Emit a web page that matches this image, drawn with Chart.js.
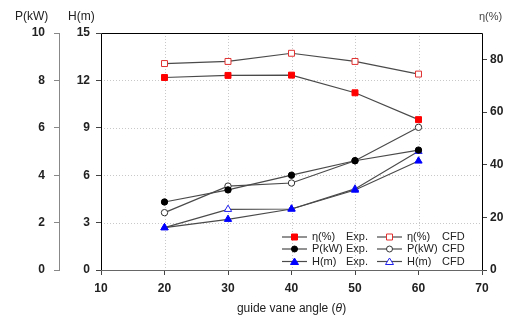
<!DOCTYPE html>
<html>
<head>
<meta charset="utf-8">
<script src="https://cdn.jsdelivr.net/npm/chart.js@4"></script>
<style>
  html, body { margin: 0; background: #fff; }
  #wrap { width: 516px; height: 322px; }
</style>
</head>
<body>
<div id="wrap"><canvas id="chart"></canvas></div>
<script>
/* ── Data ─────────────────────────────────────────────────────────────── */
const angles   = [20, 30, 40, 50, 60];
const etaExp   = [73.1, 73.9, 74.0, 67.3, 57.1];
const etaCfd   = [78.4, 79.2, 82.3, 79.2, 74.4];
const powerExp = [2.87, 3.38, 4.00, 4.61, 5.06];
const powerCfd = [2.42, 3.54, 3.67, 4.61, 6.02];
const headExp  = [2.68, 3.21, 3.86, 5.06, 6.90];
const headCfd  = [2.68, 3.84, 3.86, 5.13, 7.51];

const xTicks   = [10, 20, 30, 40, 50, 60, 70];
const pTicks   = [0, 2, 4, 6, 8, 10];
const hTicks   = [0, 3, 6, 9, 12, 15];
const etaTicks = [0, 20, 40, 60, 80];

const FONT = '"Liberation Sans", Arial, sans-serif';
const LINE = '#4a4a4a';

const pts = ys => angles.map((x, i) => ({ x, y: ys[i] }));

function series(label, kind, ys, axis, shape, color, filled) {
  return {
    label, kind,
    data: pts(ys),
    yAxisID: axis,
    borderColor: LINE,
    borderWidth: 1.2,
    pointStyle: shape,
    pointRadius: shape === 'circle' ? 3.2 : 4.2,
    pointBorderWidth: 1,
    pointBorderColor: color,
    pointBackgroundColor: filled ? color : '#fff',
    tension: 0,
  };
}

const datasets = [
  series('η(%)',  'Exp.', etaExp,   'eta', 'rect',     '#ff0000', true),
  series('P(kW)', 'Exp.', powerExp, 'p',   'circle',   '#000',    true),
  series('H(m)',  'Exp.', headExp,  'h',   'triangle', '#0000ff', true),
  series('η(%)',  'CFD',  etaCfd,   'eta', 'rect',     '#e03030', false),
  series('P(kW)', 'CFD',  powerCfd, 'p',   'circle',   '#333',    false),
  series('H(m)',  'CFD',  headCfd,  'h',   'triangle', '#2020ee', false),
];

/* ── Helpers ──────────────────────────────────────────────────────────── */
const fixTicks = list => scale => { scale.ticks = list.map(v => ({ value: v })); };
const fixWidth = w => scale => { scale.width = w; };

function marker(ctx, shape, x, y, color, filled) {
  ctx.save();
  ctx.fillStyle = filled ? color : '#fff';
  ctx.strokeStyle = color;
  ctx.lineWidth = 1;
  ctx.beginPath();
  if (shape === 'rect') ctx.rect(x - 3, y - 3, 6, 6);
  else if (shape === 'circle') ctx.arc(x, y, 3, 0, Math.PI * 2);
  else { ctx.moveTo(x, y - 3.5); ctx.lineTo(x + 4, y + 3); ctx.lineTo(x - 4, y + 3); ctx.closePath(); }
  ctx.fill();
  ctx.stroke();
  ctx.restore();
}

/* ── Plugins: grid, frame, titles, legend ─────────────────────────────── */
const decor = {
  id: 'decor',
  beforeDatasetsDraw(chart) {
    const { ctx, chartArea: a, scales } = chart;
    ctx.save();
    ctx.strokeStyle = '#c8c8c8';
    ctx.lineWidth = 1;
    ctx.setLineDash([1, 2]);
    hTicks.slice(1, -1).forEach(v => {
      const y = Math.round(scales.h.getPixelForValue(v)) + 0.5;
      ctx.beginPath(); ctx.moveTo(a.left, y); ctx.lineTo(a.right, y); ctx.stroke();
    });
    xTicks.slice(1, -1).forEach(v => {
      const x = Math.round(scales.x.getPixelForValue(v)) + 0.5;
      ctx.beginPath(); ctx.moveTo(x, a.top); ctx.lineTo(x, a.bottom); ctx.stroke();
    });
    ctx.restore();
  },
  afterDraw(chart) {
    const { ctx, chartArea: a } = chart;
    ctx.save();
    // frame
    ctx.strokeStyle = '#000';
    ctx.lineWidth = 1;
    ctx.beginPath();
    ctx.moveTo(Math.round(a.left) + 0.5, Math.round(a.bottom));
    ctx.lineTo(Math.round(a.left) + 0.5, Math.round(a.top) + 0.5);
    ctx.lineTo(Math.round(a.right) + 0.5, Math.round(a.top) + 0.5);
    ctx.lineTo(Math.round(a.right) + 0.5, Math.round(a.bottom));
    ctx.stroke();
    ctx.strokeStyle = '#666';
    ctx.beginPath();
    ctx.moveTo(a.left, Math.round(a.bottom) + 0.5);
    ctx.lineTo(a.right + 1, Math.round(a.bottom) + 0.5);
    ctx.stroke();

    // axis titles
    ctx.fillStyle = '#222';
    ctx.textBaseline = 'middle';
    ctx.font = '12px ' + FONT;
    ctx.textAlign = 'left';
    ctx.fillText('P(kW)', 15, 17);
    ctx.fillText('H(m)', 68, 17);
    ctx.fillStyle = '#444';
    ctx.font = '11px ' + FONT;
    ctx.fillText('η(%)', 479, 17);

    ctx.fillStyle = '#222';
    ctx.font = '12px ' + FONT;
    const t1 = 'guide vane angle (', t2 = 'θ', t3 = ')';
    const w1 = ctx.measureText(t1).width;
    ctx.font = 'italic 12px ' + FONT;
    const w2 = ctx.measureText(t2).width;
    ctx.font = '12px ' + FONT;
    const w3 = ctx.measureText(t3).width;
    let x = (a.left + a.right) / 2 - (w1 + w2 + w3) / 2;
    const y = 309;
    ctx.fillText(t1, x, y); x += w1;
    ctx.font = 'italic 12px ' + FONT;
    ctx.fillText(t2, x, y); x += w2;
    ctx.font = '12px ' + FONT;
    ctx.fillText(t3, x, y);

    // legend, two columns of three rows
    const cols = [{ x: 282, name: 312, kind: 346 }, { x: 377, name: 407, kind: 442 }];
    const rows = [237, 249, 261.5];
    ctx.font = '11px ' + FONT;
    chart.data.datasets.forEach((ds, i) => {
      const c = cols[Math.floor(i / 3)], yy = rows[i % 3];
      ctx.strokeStyle = LINE;
      ctx.lineWidth = 1.2;
      ctx.beginPath(); ctx.moveTo(c.x, yy); ctx.lineTo(c.x + 25, yy); ctx.stroke();
      marker(ctx, ds.pointStyle, c.x + 12.5, yy, ds.pointBorderColor, ds.pointBackgroundColor !== '#fff');
      ctx.fillStyle = '#222';
      ctx.fillText(ds.label, c.name, yy);
      ctx.fillText(ds.kind, c.kind, yy);
    });
    ctx.restore();
  },
};

/* ── Chart ────────────────────────────────────────────────────────────── */
const tickFont = { family: FONT, size: 12, weight: 'bold' };

new Chart(document.getElementById('chart'), {
  type: 'line',
  data: { datasets },
  plugins: [decor],
  options: {
    responsive: true,
    maintainAspectRatio: false,
    animation: false,
    layout: { padding: { top: 33, left: 0, right: 0, bottom: 0 } },
    plugins: { legend: { display: false }, tooltip: { enabled: false } },
    scales: {
      x: {
        type: 'linear', position: 'bottom', min: 10, max: 70,
        afterBuildTicks: fixTicks(xTicks),
        afterFit: scale => { scale.height = 52; },
        ticks: { font: tickFont, color: '#222', padding: 6, maxRotation: 0 },
        grid: { drawOnChartArea: false, tickLength: 5, color: '#444' },
        border: { display: false },
      },
      h: {
        type: 'linear', position: 'left', min: 0, max: 15, weight: 0,
        afterBuildTicks: fixTicks(hTicks),
        afterFit: fixWidth(42),
        ticks: { font: tickFont, color: '#222', padding: 6 },
        grid: { drawOnChartArea: false, tickLength: 5, color: '#444' },
        border: { display: false },
      },
      p: {
        type: 'linear', position: 'left', min: 0, max: 10, weight: 1,
        afterBuildTicks: fixTicks(pTicks),
        afterFit: fixWidth(59),
        ticks: { font: tickFont, color: '#222', padding: 9 },
        grid: { drawOnChartArea: false, tickLength: 5, color: '#888' },
        border: { display: true, color: '#888', width: 1 },
      },
      eta: {
        type: 'linear', position: 'right', min: 0, max: 90,
        afterBuildTicks: fixTicks(etaTicks),
        afterFit: fixWidth(34),
        ticks: { font: tickFont, color: '#222', padding: 3 },
        grid: { drawOnChartArea: false, tickLength: 5, color: '#444' },
        border: { display: false },
      },
    },
  },
});
</script>
</body>
</html>
